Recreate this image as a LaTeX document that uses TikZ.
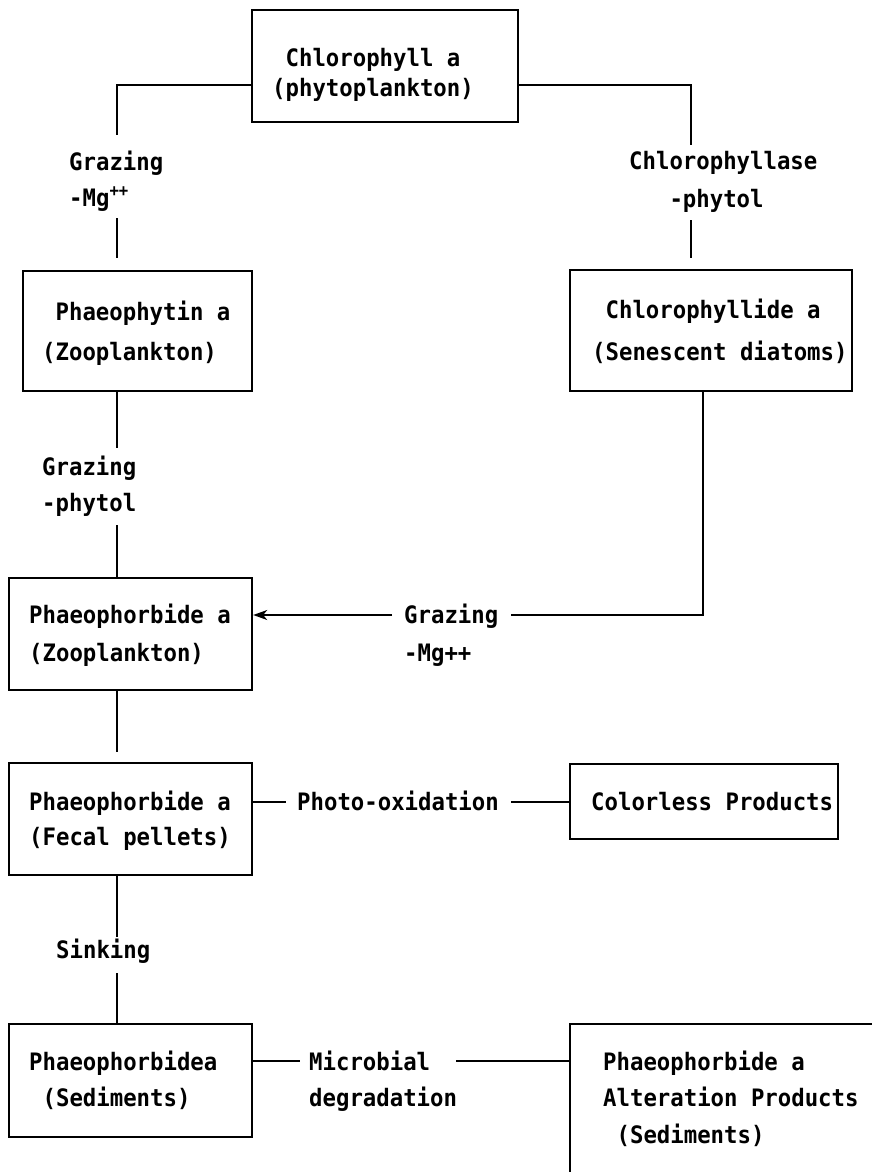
\documentclass[tikz,border=0pt]{standalone}
\usepackage{fontspec}
\setmainfont[FakeStretch=0.93]{DejaVu Sans Mono}
\usetikzlibrary{arrows.meta}
\begin{document}
\begin{tikzpicture}[x=1pt,y=-1pt,
  box/.style={draw, line width=2.2pt, inner sep=0pt, anchor=north west},
  txt/.style={inner sep=0pt, align=left, anchor=base west},
  conn/.style={line width=1.4pt},
  fs/.style={font=\fontsize{24}{#1}\selectfont\bfseries}]
\useasboundingbox (0,0) rectangle (872,1172);
\fill[white] (0,0) rectangle (872,1172);
\begin{scope}
\clip (0,0) rectangle (872,1172);
% boxes
\node[box, minimum width=266pt, minimum height=112pt] (top) at (251,9) {};
\node[box, minimum width=229pt, minimum height=120pt] (ph) at (22,270) {};
\node[box, minimum width=282pt, minimum height=121pt] (cd) at (569,269) {};
\node[box, minimum width=243pt, minimum height=112pt] (pz) at (8,577) {};
\node[box, minimum width=243pt, minimum height=112pt] (fp) at (8,762) {};
\node[box, minimum width=268pt, minimum height=75pt] (cl) at (569,763) {};
\node[box, minimum width=243pt, minimum height=113pt] (sd) at (8,1023) {};
\node[box, minimum width=400pt, minimum height=300pt] (al) at (569,1023) {};
\end{scope}
% box texts (anchored at the baseline of the last line)
\node[txt, fs=30] (tTop) at (272,96) {~Chlorophyll a\\(phytoplankton)};
\node[txt, fs=40] (tPh) at (42,360) {~Phaeophytin a\\(Zooplankton)};
\node[txt, fs=42] (tCd) at (592,360) {~Chlorophyllide a\\(Senescent diatoms)};
\node[txt, fs=38] (tPz) at (29,661) {Phaeophorbide a\\(Zooplankton)};
\node[txt, fs=35] (tFp) at (29,845) {Phaeophorbide a\\(Fecal pellets)};
\node[txt, fs=36] (tCl) at (591,810) {Colorless Products};
\node[txt, fs=36] (tSd) at (29,1106) {Phaeophorbidea\\~(Sediments)};
\node[txt, fs=36.5] (tAl) at (603,1143) {Phaeophorbide a\\Alteration Products\\~(Sediments)};
% labels
\node[txt, fs=36] (l1) at (69,206) {Grazing\\-Mg\textsuperscript{++}};
\node[txt, fs=38] (l2) at (629,207) {Chlorophyllase\\~~~-phytol};
\node[txt, fs=36] (l3) at (42,511) {Grazing\\-phytol};
\node[txt, fs=38] (l4) at (404,661) {Grazing\\-Mg++};
\node[txt, fs=36] (l5) at (297,810) {Photo-oxidation};
\node[txt, fs=36] (l6) at (56,958) {Sinking};
\node[txt, fs=36] (l7) at (309,1106) {Microbial\\degradation};
% free ends
\coordinate (a1) at (117,135);
\coordinate (a2) at (117,218);
\coordinate (b1) at (691,145);
\coordinate (b2) at (691,220);
\coordinate (c1) at (117,448);
\coordinate (c2) at (117,525);
\coordinate (d0) at (703,615);
\coordinate (d1) at (511,615);
\coordinate (d2) at (392,615);
\coordinate (e1) at (117,752);
\coordinate (f1) at (286,802);
\coordinate (f2) at (511,802);
\coordinate (g1) at (117,937);
\coordinate (g2) at (117,973);
\coordinate (h1) at (300,1061);
\coordinate (h2) at (456,1061);
% connectors
\draw[conn] (top.west |- 0,85) -| (a1);
\draw[conn, shorten >=12pt] (a2) -- (a2 |- ph.north);
\draw[conn] (top.east |- 0,85) -| (b1);
\draw[conn, shorten >=11pt] (b2) -- (b2 |- cd.north);
\draw[conn] (c1 |- ph.south) -- (c1);
\draw[conn] (c2) -- (c2 |- pz.north);
\draw[conn] (d0 |- cd.south) -- (d0) -- (d1);
\draw[conn, -{Stealth[length=14pt,width=10pt,inset=4pt]}] (d2) -- (pz.east |- d2);
\draw[conn, shorten >=10pt] (e1 |- pz.south) -- (e1 |- fp.north);
\draw[conn] (fp.east |- f1) -- (f1);
\draw[conn] (f2) -- (cl.west |- f2);
\draw[conn] (g1 |- fp.south) -- (g1);
\draw[conn] (g2) -- (g2 |- sd.north);
\draw[conn] (sd.east |- h1) -- (h1);
\draw[conn] (h2) -- (al.west |- h2);
\end{tikzpicture}
\end{document}
